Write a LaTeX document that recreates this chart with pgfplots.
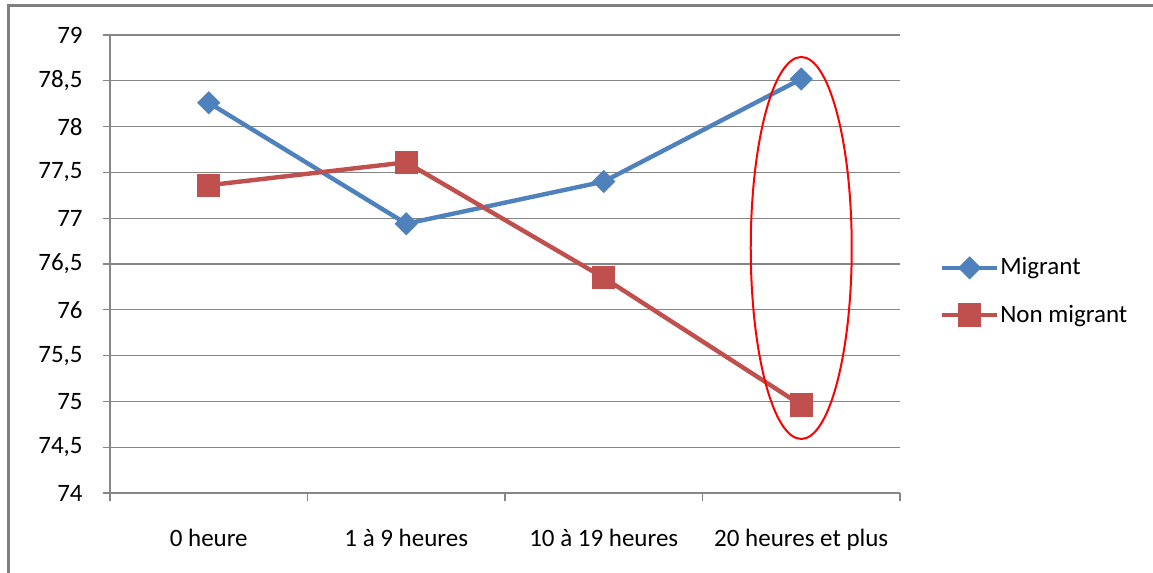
\documentclass[border=0pt]{standalone}
\usepackage{fontspec}
\setmainfont{Carlito}
\usepackage{pgfplots}
\pgfplotsset{compat=1.18}

\definecolor{migblue}{RGB}{79,129,189}
\definecolor{nonred}{RGB}{192,80,77}
\definecolor{gridgray}{RGB}{134,134,134}
\definecolor{framegray}{RGB}{128,128,128}

\begin{document}
\begin{tikzpicture}
  % picture is 1153x573 px, 1 px = 0.5pt
  \useasboundingbox (0,0) rectangle (576.5pt,-286.5pt);
  \draw[framegray, line width=1.5pt] (4pt,-286.5pt) -- (4pt,-2.5pt) -- (576.5pt,-2.5pt);

  \begin{axis}[
    at={(55pt,-246.5pt)}, anchor=south west,
    scale only axis,
    width=395pt, height=229pt,
    xmin=-0.5, xmax=3.5,
    ymin=74, ymax=79,
    ytick={74,74.5,...,79},
    xtick={0,1,2,3},
    xticklabels={0 heure, 1 à 9 heures, 10 à 19 heures, 20 heures et plus},
    minor xtick={-0.5,0.5,1.5,2.5,3.5},
    major x tick style={draw=none},
    axis x line*=bottom, axis y line*=left,
    axis line style={draw=gridgray, line width=0.6pt, -},
    tick style={draw=gridgray, line width=0.6pt},
    tick align=outside,
    major tick length=3.5pt, minor tick length=4pt,
    ymajorgrids, grid style={draw=gridgray, line width=0.6pt},
    font=\fontsize{12.5pt}{15pt}\selectfont,
    /pgf/number format/.cd, use comma, 1000 sep={}, assume math mode=true,
    /pgfplots/.cd,
    yticklabel style={anchor=east, inner sep=0pt, xshift=-10pt},
    xticklabel style={anchor=north, inner sep=0pt, yshift=-14.5pt},
    legend style={draw=none, fill=none, at={(1.05,0.44)}, anchor=west,
      inner sep=0pt, row sep=12.5pt, font=\fontsize{12.5pt}{15pt}\selectfont,
      nodes={inner sep=0.5pt}},
    legend cell align=left,
    legend image code/.code={%
      \draw[mark repeat=2, mark phase=2] plot coordinates {(0pt,0pt) (13.75pt,0pt) (27.5pt,0pt)};},
  ]
    \addplot[migblue, line width=2.2pt, mark=square*, mark size=3pt,
      mark options={rotate=45, solid}] coordinates {
      (0,78.26) (1,76.94) (2,77.40) (3,78.52)
    };
    \addlegendentry{Migrant}
    \addplot[nonred, line width=2.2pt, mark=square*, mark size=4.75pt,
      mark options={solid}] coordinates {
      (0,77.36) (1,77.61) (2,76.35) (3,74.96)
    };
    \addlegendentry{Non migrant}

    \draw[red, line width=1pt] (axis cs:3,76.675) ellipse [x radius=25.25pt, y radius=95.5pt];
  \end{axis}
\end{tikzpicture}
\end{document}
